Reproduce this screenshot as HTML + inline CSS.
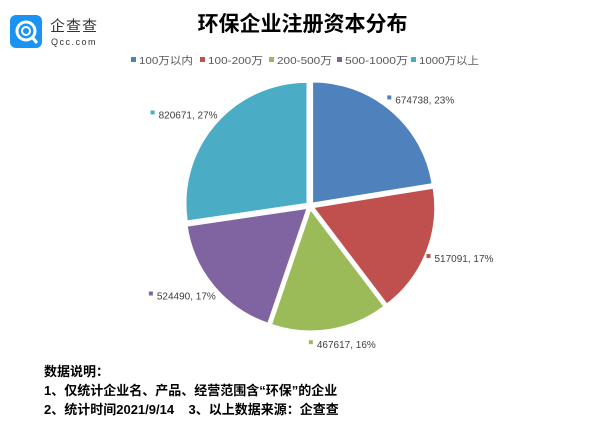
<!DOCTYPE html>
<html><head><meta charset="utf-8"><style>
body{margin:0;width:605px;height:437px;background:#fff;overflow:hidden;font-family:"Liberation Sans","Noto Sans CJK SC",sans-serif;position:relative}
.abs{position:absolute}
</style></head><body>
<div class="abs" style="left:10px;top:15px;width:100px;height:36px">
  <div style="position:absolute;left:0;top:0;width:32px;height:33px;background:#1a93f5;border-radius:6px">
    <svg width="32" height="33"><circle cx="16" cy="16" r="9" fill="none" stroke="#fff" stroke-width="3"/><circle cx="16" cy="16" r="4" fill="none" stroke="#fff" stroke-width="2"/><line x1="22" y1="22" x2="27" y2="28" stroke="#fff" stroke-width="3"/></svg>
  </div>
  <div style="position:absolute;left:40px;top:0;font-size:15px;color:#333;letter-spacing:1px;white-space:nowrap">企查查</div>
  <div style="position:absolute;left:41px;top:22px;font-size:9px;color:#333;letter-spacing:1.5px;white-space:nowrap">Qcc.com</div>
</div>
<div class="abs" style="left:0;width:605px;top:8px;text-align:center;font-size:21px;font-weight:bold;color:#000">环保企业注册资本分布</div>
<svg class="abs" style="left:0;top:0" width="605" height="437" id="chart"></svg>
<div class="abs" style="left:44px;top:362px;font-size:13px;font-weight:bold;line-height:19px;color:#000">
<div>数据说明：</div>
<div>1、仅统计企业名、产品、经营范围含“环保”的企业</div>
<div>2、统计时间2021/9/14&nbsp;&nbsp;&nbsp;&nbsp;3、以上数据来源：企查查</div>
</div>
<script>
const categories=["100万以内","100-200万","200-500万","500-1000万","1000万以上"];
const values=[674738,517091,467617,524490,820671];
const percentLabels=["23%","17%","16%","17%","27%"];
const colors=["#4f81bd","#c0504d","#9bbb59","#8064a2","#4bacc6"];
const svg=document.getElementById('chart');
const NS="http://www.w3.org/2000/svg";
const cx=310,cy=206,R=121,ex=4;
const total=values.reduce((a,b)=>a+b,0);
function pt(a,r,ox,oy){return [ox+r*Math.sin(a),oy-r*Math.cos(a)];}
let acc=0;
values.forEach((v,i)=>{
  const a0=acc/total*2*Math.PI; acc+=v; const a1=acc/total*2*Math.PI; const am=(a0+a1)/2;
  const ox=cx+ex*Math.sin(am), oy=cy-ex*Math.cos(am);
  const p0=pt(a0,R,ox,oy),p1=pt(a1,R,ox,oy);
  const path=document.createElementNS(NS,'path');
  path.setAttribute('d',`M${ox},${oy}L${p0[0]},${p0[1]}A${R},${R} 0 ${a1-a0>Math.PI?1:0} 1 ${p1[0]},${p1[1]}Z`);
  path.setAttribute('fill',colors[i]);path.setAttribute('stroke','#fff');path.setAttribute('stroke-width','1');
  
  
  svg.appendChild(path);
  const lp=pt(am,140,cx,cy);
  const s=Math.sin(am); const lx=lp[0]+(Math.abs(s)>0.3?Math.sign(s)*20:10);
  const txt=document.createElementNS(NS,'text');
  txt.setAttribute('x',lx+4);txt.setAttribute('y',lp[1]+4);txt.setAttribute('text-anchor','middle');
  txt.setAttribute('font-size','10');txt.setAttribute('fill','#404040');
  txt.textContent=v+', '+percentLabels[i];
  
  
  svg.appendChild(txt);
  const w=txt.getComputedTextLength?txt.getComputedTextLength():60;
  const m=document.createElementNS(NS,'rect');
  m.setAttribute('x',lx+4-w/2-8);m.setAttribute('y',lp[1]-4);m.setAttribute('width',4);m.setAttribute('height',4);m.setAttribute('fill',colors[i]);
  
  
  svg.appendChild(m);
});
// legend
const lgX=[131,200,269,337,411];
categories.forEach((c,i)=>{
  const r=document.createElementNS(NS,'rect');
  r.setAttribute('x',lgX[i]);r.setAttribute('y',57);r.setAttribute('width',5);r.setAttribute('height',5);r.setAttribute('fill',colors[i]);
  
  
  svg.appendChild(r);
  const t=document.createElementNS(NS,'text');
  t.setAttribute('x',lgX[i]+8);t.setAttribute('y',64);t.setAttribute('font-size','10.5');t.setAttribute('fill','#595959');
  t.setAttribute('textLength',[54,55,55,63,60][i]);t.setAttribute('lengthAdjust','spacingAndGlyphs');
  t.textContent=c;
  
  
  svg.appendChild(t);
});
</script>
</body></html>
